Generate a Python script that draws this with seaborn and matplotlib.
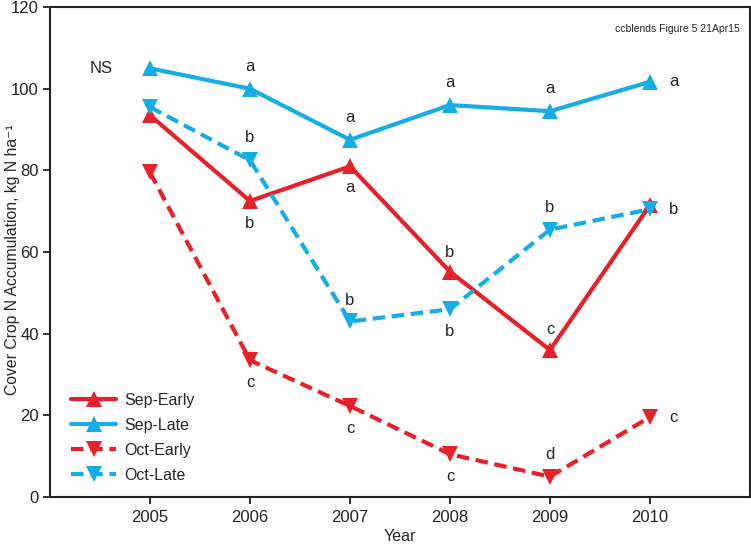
import matplotlib
matplotlib.use("Agg")
import matplotlib.pyplot as plt
import numpy as np
import pandas as pd
import seaborn as sns

years = [2005, 2006, 2007, 2008, 2009, 2010]
sep_early = [93.5, 72.5, 81.0, 55.2, 36.0, 71.5]
sep_late = [105.0, 100.0, 87.5, 96.0, 94.5, 101.7]
oct_early = [79.5, 33.5, 22.3, 10.5, 5.0, 19.6]
oct_late = [95.5, 82.5, 43.0, 46.0, 65.5, 70.5]

# mean separation letters per year (None = no letter)
letters = {
    "Sep-Early": [None, "b", "a", "b", "c", None],
    "Sep-Late": ["NS", "a", "a", "a", "a", "a"],
    "Oct-Early": [None, "c", "c", "c", "d", "c"],
    "Oct-Late": [None, "b", "b", "b", "b", "b"],
}
# where each letter goes relative to the point: (dx, dy) in points
offsets = {
    "Sep-Early": [None, (0, -16), (0, -15), (0, 14), (0, 15), None],
    "Sep-Late": [(-35, 0), (0, 16), (0, 16), (0, 16), (0, 16), (17, 0)],
    "Oct-Early": [None, (0, -16), (0, -16), (0, -16), (0, 16), (17, 0)],
    "Oct-Late": [None, (0, 16), (0, 15), (0, -16), (0, 16), (17, 0)],
}

series = {"Sep-Early": sep_early, "Sep-Late": sep_late,
          "Oct-Early": oct_early, "Oct-Late": oct_late}
df = pd.DataFrame([(y, name, v) for name, vals in series.items()
                   for y, v in zip(years, vals)],
                  columns=["Year", "Treatment", "N"])

red = "#E8202A"
blue = "#16ACE6"
palette = {"Sep-Early": red, "Sep-Late": blue, "Oct-Early": red, "Oct-Late": blue}
markers = {"Sep-Early": "^", "Sep-Late": "^", "Oct-Early": "v", "Oct-Late": "v"}
dashes = {"Sep-Early": "", "Sep-Late": "", "Oct-Early": (3, 1.6), "Oct-Late": (3, 1.6)}

sns.set_style("ticks")
plt.rcParams["font.family"] = ["Liberation Sans", "DejaVu Sans"]

fig = plt.figure(figsize=(7.51, 5.45), dpi=100)
ax = fig.add_axes([0.0666, 0.088, 0.932, 0.899])

sns.lineplot(data=df, x="Year", y="N", hue="Treatment", style="Treatment",
             palette=palette, markers=markers, dashes=dashes,
             linewidth=3.0, markersize=12, markeredgewidth=0, ax=ax)

for name, vals in series.items():
    for y, v, lab, off in zip(years, vals, letters[name], offsets[name]):
        if lab is None:
            continue
        ax.annotate(lab, (y, v), xytext=off, textcoords="offset points",
                    ha="center", va="center", fontsize=12)

ax.text(0.985, 0.965, "ccblends Figure 5 21Apr15", transform=ax.transAxes,
        ha="right", va="top", fontsize=7.5)

ax.set_xlim(2004, 2011)
ax.set_ylim(0, 120)
ax.set_xticks(years)
ax.set_yticks(np.arange(0, 121, 20))
ax.set_xlabel("Year", fontsize=11.5, labelpad=3)
ax.set_ylabel("Cover Crop N Accumulation, kg N ha\u207b\u00b9", fontsize=11.3)
ax.yaxis.set_label_coords(-0.043, 0.485)
ax.tick_params(labelsize=12, width=1.3, length=5, colors="#222222")
ax.tick_params(axis="x", pad=4)
ax.tick_params(axis="y", pad=3)
for s in ax.spines.values():
    s.set_linewidth(1.5)
    s.set_color("#222222")

leg = ax.legend(loc="lower left", bbox_to_anchor=(0.01, 0.0), frameon=False,
                fontsize=11.5, handlelength=2.8, labelspacing=0.62, handletextpad=0.5)
for h in leg.legend_handles:
    h.set_markersize(12)

fig.savefig("out.png", dpi=100)
